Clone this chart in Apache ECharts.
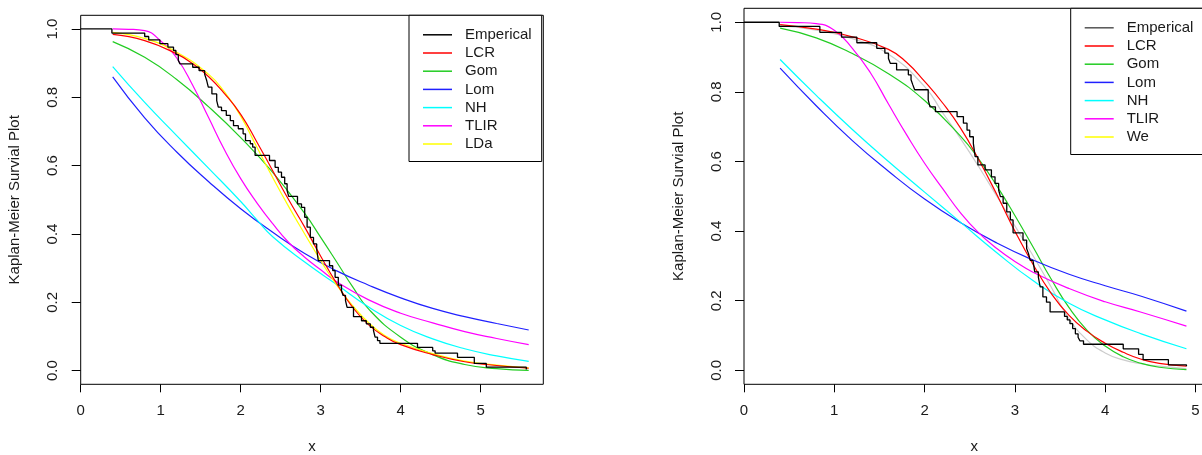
<!DOCTYPE html>
<html>
<head>
<meta charset="utf-8">
<script src="https://cdn.jsdelivr.net/npm/echarts@6/dist/echarts.min.js"></script>
<style>
  html, body { margin: 0; padding: 0; background: #fff; }
  #km { width: 1202px; height: 455px; }
</style>
</head>
<body>
<div id="km"></div>
<script>
const xTicks = [0, 1, 2, 3, 4, 5];
const yTicks = [0, 0.2, 0.4, 0.6, 0.8, 1.0];

// left panel
const leftEmp = [[0,1],[0.39,0.988],[0.80,0.978],[0.85,0.968],[0.99,0.957],[1.09,0.947],[1.16,0.937],[1.19,0.925],[1.22,0.908],[1.24,0.898],[1.40,0.888],[1.48,0.878],[1.55,0.867],[1.575,0.849],[1.595,0.83],[1.64,0.81],[1.70,0.79],[1.72,0.771],[1.76,0.761],[1.82,0.747],[1.87,0.732],[1.91,0.717],[1.97,0.708],[2.03,0.693],[2.06,0.673],[2.12,0.664],[2.15,0.654],[2.18,0.63],[2.36,0.615],[2.43,0.595],[2.47,0.581],[2.51,0.566],[2.55,0.547],[2.58,0.527],[2.60,0.51],[2.71,0.488],[2.76,0.478],[2.80,0.449],[2.83,0.42],[2.87,0.39],[2.91,0.371],[2.95,0.356],[2.97,0.322],[3.11,0.307],[3.15,0.293],[3.18,0.273],[3.22,0.25],[3.26,0.234],[3.28,0.22],[3.31,0.205],[3.33,0.185],[3.41,0.158],[3.51,0.146],[3.57,0.137],[3.62,0.127],[3.66,0.117],[3.68,0.098],[3.71,0.088],[3.74,0.080],[4.21,0.068],[4.40,0.058],[4.43,0.051],[4.71,0.039],[4.92,0.021],[5.07,0.01],[5.57,0.003]];
const leftLCR = [[0.4,0.984],[0.8,0.966],[1.2,0.927],[1.4,0.898],[1.6,0.86],[1.8,0.81],[2.0,0.75],[2.2,0.67],[2.4,0.585],[2.6,0.5],[2.8,0.42],[3.0,0.335],[3.2,0.255],[3.4,0.185],[3.6,0.134],[3.8,0.1],[4.0,0.076],[4.4,0.047],[4.8,0.026],[5.2,0.015],[5.6,0.007]];
const leftGom = [[0.4,0.963],[0.8,0.917],[1.2,0.852],[1.6,0.772],[2.0,0.682],[2.4,0.58],[2.8,0.46],[3.0,0.39],[3.2,0.318],[3.4,0.245],[3.6,0.18],[4.0,0.098],[4.4,0.047],[4.8,0.018],[5.2,0.006],[5.6,0.001]];
const leftLom = [[0.4,0.86],[0.8,0.74],[1.2,0.64],[1.6,0.553],[2.0,0.474],[2.4,0.405],[2.8,0.343],[3.2,0.292],[3.6,0.25],[4.0,0.213],[4.4,0.182],[4.8,0.158],[5.2,0.138],[5.6,0.119]];
const leftNH = [[0.4,0.89],[0.8,0.785],[1.2,0.688],[1.6,0.592],[2.0,0.495],[2.2,0.442],[2.4,0.392],[2.8,0.318],[3.2,0.252],[3.6,0.186],[4.0,0.132],[4.4,0.093],[4.8,0.064],[5.2,0.043],[5.6,0.027]];
const leftTLIR = [[0.4,1.0],[0.6,0.999],[0.8,0.995],[1.0,0.965],[1.2,0.915],[1.4,0.835],[1.6,0.74],[1.8,0.645],[2.0,0.562],[2.2,0.492],[2.4,0.43],[2.6,0.375],[2.8,0.332],[3.0,0.295],[3.2,0.26],[3.6,0.207],[4.0,0.168],[4.4,0.14],[4.8,0.114],[5.2,0.094],[5.6,0.076]];
const leftLDa = [[0.4,0.99],[0.8,0.972],[1.2,0.932],[1.6,0.867],[1.8,0.815],[2.0,0.745],[2.2,0.655],[2.4,0.565],[2.6,0.48],[2.8,0.4],[3.0,0.322],[3.2,0.25],[3.4,0.19],[3.6,0.14],[3.8,0.103],[4.0,0.08],[4.4,0.05],[4.8,0.028],[5.2,0.016],[5.6,0.008]];

// right panel
const rightEmp = [[0,1],[0.39,0.988],[0.84,0.971],[1.08,0.957],[1.25,0.941],[1.47,0.925],[1.56,0.911],[1.60,0.896],[1.62,0.882],[1.69,0.863],[1.82,0.849],[1.85,0.835],[1.87,0.82],[1.89,0.806],[2.04,0.777],[2.06,0.757],[2.12,0.743],[2.36,0.729],[2.43,0.71],[2.47,0.69],[2.50,0.671],[2.54,0.652],[2.56,0.614],[2.59,0.59],[2.67,0.576],[2.74,0.556],[2.78,0.537],[2.82,0.518],[2.84,0.499],[2.87,0.48],[2.91,0.455],[2.95,0.432],[2.98,0.395],[3.09,0.374],[3.13,0.35],[3.15,0.336],[3.17,0.316],[3.20,0.311],[3.22,0.283],[3.26,0.268],[3.28,0.24],[3.31,0.211],[3.35,0.196],[3.39,0.168],[3.55,0.155],[3.58,0.145],[3.61,0.134],[3.64,0.12],[3.67,0.105],[3.70,0.095],[3.72,0.085],[3.76,0.075],[4.20,0.062],[4.37,0.046],[4.42,0.031],[4.70,0.016],[4.90,0.012]];
const rightLCR = [[0.4,0.993],[0.8,0.98],[1.2,0.958],[1.6,0.922],[1.8,0.885],[2.0,0.83],[2.2,0.768],[2.4,0.695],[2.6,0.605],[2.8,0.505],[3.0,0.4],[3.2,0.305],[3.4,0.222],[3.6,0.158],[3.8,0.112],[4.0,0.078],[4.2,0.052],[4.4,0.032],[4.6,0.02],[4.9,0.012]];
const rightGom = [[0.4,0.983],[0.8,0.955],[1.2,0.91],[1.6,0.852],[2.0,0.775],[2.4,0.672],[2.6,0.607],[2.8,0.53],[3.0,0.445],[3.2,0.355],[3.4,0.263],[3.6,0.18],[3.8,0.115],[4.0,0.07],[4.2,0.039],[4.4,0.02],[4.6,0.009],[4.9,0.002]];
const rightLom = [[0.4,0.868],[0.8,0.76],[1.2,0.66],[1.6,0.572],[2.0,0.492],[2.4,0.424],[2.8,0.366],[3.2,0.317],[3.6,0.276],[4.0,0.243],[4.4,0.213],[4.9,0.17]];
const rightNH = [[0.4,0.893],[0.8,0.79],[1.2,0.692],[1.6,0.6],[2.0,0.512],[2.4,0.425],[2.8,0.338],[3.2,0.258],[3.6,0.193],[4.0,0.145],[4.4,0.105],[4.9,0.062]];
const rightTLIR = [[0.4,1.0],[0.6,0.999],[0.8,0.996],[1.0,0.977],[1.2,0.925],[1.4,0.855],[1.6,0.765],[1.8,0.677],[2.0,0.595],[2.2,0.522],[2.4,0.452],[2.6,0.395],[2.8,0.35],[3.0,0.313],[3.2,0.282],[3.6,0.235],[4.0,0.197],[4.4,0.167],[4.9,0.127]];
const rightWe = [[0.4,0.99],[0.8,0.977],[1.2,0.953],[1.6,0.908],[2.0,0.815],[2.2,0.74],[2.4,0.665],[2.6,0.585],[2.8,0.5],[3.0,0.415],[3.2,0.33],[3.4,0.24],[3.6,0.148],[3.8,0.087],[4.0,0.05],[4.2,0.03],[4.4,0.019],[4.6,0.012],[4.9,0.005]];

const font = "'Liberation Sans', Arial, sans-serif";
const txt = "#1a1a1a";

function xAx(gi, max) {
  return {
    type: "value", gridIndex: gi, min: 0, max: max,
    name: "x", nameLocation: "middle", nameGap: 55,
    nameTextStyle: { fontFamily: font, fontSize: 15, color: txt },
    axisLine: { show: false, onZero: false },
    splitLine: { show: false },
    axisTick: { length: 8, lineStyle: { color: "#000" }, customValues: xTicks },
    axisLabel: { fontFamily: font, fontSize: 15, color: txt, margin: 19, customValues: xTicks }
  };
}
function yAx(gi) {
  return {
    type: "value", gridIndex: gi, min: -0.04, max: 1.04,
    name: "Kaplan-Meier Survial Plot", nameLocation: "middle", nameGap: 58, nameRotate: 90,
    nameTextStyle: { fontFamily: font, fontSize: 15, color: txt },
    axisLine: { show: false, onZero: false },
    splitLine: { show: false },
    axisTick: { length: 9, lineStyle: { color: "#000" }, customValues: yTicks },
    axisLabel: {
      fontFamily: font, fontSize: 15, color: txt, margin: 20, rotate: 90,
      customValues: yTicks, formatter: v => v.toFixed(1)
    }
  };
}
function curve(name, data, color, gi) {
  return {
    name: name, type: "line", data: data, xAxisIndex: gi, yAxisIndex: gi,
    symbol: "none", smooth: 0.5,
    lineStyle: { color: color, width: 1.2 }, itemStyle: { color: color },
    z: 3
  };
}
function stepLine(data, gi) {
  return {
    name: "Emperical", type: "line", data: data, xAxisIndex: gi, yAxisIndex: gi,
    symbol: "none", step: "end",
    lineStyle: { color: "#000", width: 1.3 }, itemStyle: { color: "#000" },
    z: 4
  };
}
function legend(left, top, names, colors, empColor) {
  return {
    orient: "vertical", left: left, top: top,
    itemWidth: 29, itemHeight: 14, itemGap: 3.2,
    padding: [12, 10, 10, 14],
    borderColor: "#000", borderWidth: 1, borderRadius: 0,
    backgroundColor: "#fff",
    selectedMode: false,
    textStyle: { fontFamily: font, fontSize: 15, color: txt, padding: [0, 0, 0, 8] },
    data: names.map((n, i) => ({
      name: n,
      icon: "path://M0,0h29v1.5h-29z",
      itemStyle: { color: i === 0 ? empColor : colors[i] }
    }))
  };
}

const names1 = ["Emperical", "LCR", "Gom", "Lom", "NH", "TLIR", "LDa"];
const names2 = ["Emperical", "LCR", "Gom", "Lom", "NH", "TLIR", "We"];
const cols = ["#000000", "#ff0000", "#22cc22", "#2020ff", "#00ffff", "#ff00ff", "#ffff00"];

const option = {
  animation: false,
  backgroundColor: "#fff",
  grid: [
    { left: 80.7, top: 15.3, width: 462.6, height: 369, outerBoundsMode: "none", show: true, borderColor: "#000", borderWidth: 1, backgroundColor: "transparent" },
    { left: 744, top: 8.3, width: 460.5, height: 376, outerBoundsMode: "none", show: true, borderColor: "#000", borderWidth: 1, backgroundColor: "transparent" }
  ],
  xAxis: [xAx(0, 5.7825), xAx(1, 5.1)],
  yAxis: [yAx(0), yAx(1)],
  legend: [
    legend(409, 15.3, names1, cols, "#000"),
    legend(1070.7, 8.3, names2, cols, "#555")
  ],
  series: [
    stepLine(leftEmp, 0),
    curve("Gom", leftGom, cols[2], 0),
    curve("Lom", leftLom, cols[3], 0),
    curve("NH", leftNH, cols[4], 0),
    curve("TLIR", leftTLIR, cols[5], 0),
    curve("LDa", leftLDa, cols[6], 0),
    curve("LCR", leftLCR, cols[1], 0),
    stepLine(rightEmp, 1),
    curve("We", rightWe, "#cccccc", 1),
    curve("Gom", rightGom, cols[2], 1),
    curve("Lom", rightLom, cols[3], 1),
    curve("NH", rightNH, cols[4], 1),
    curve("TLIR", rightTLIR, cols[5], 1),
    curve("LCR", rightLCR, cols[1], 1)
  ]
};

const chart = echarts.init(document.getElementById("km"));
chart.setOption(option);
</script>
</body>
</html>
